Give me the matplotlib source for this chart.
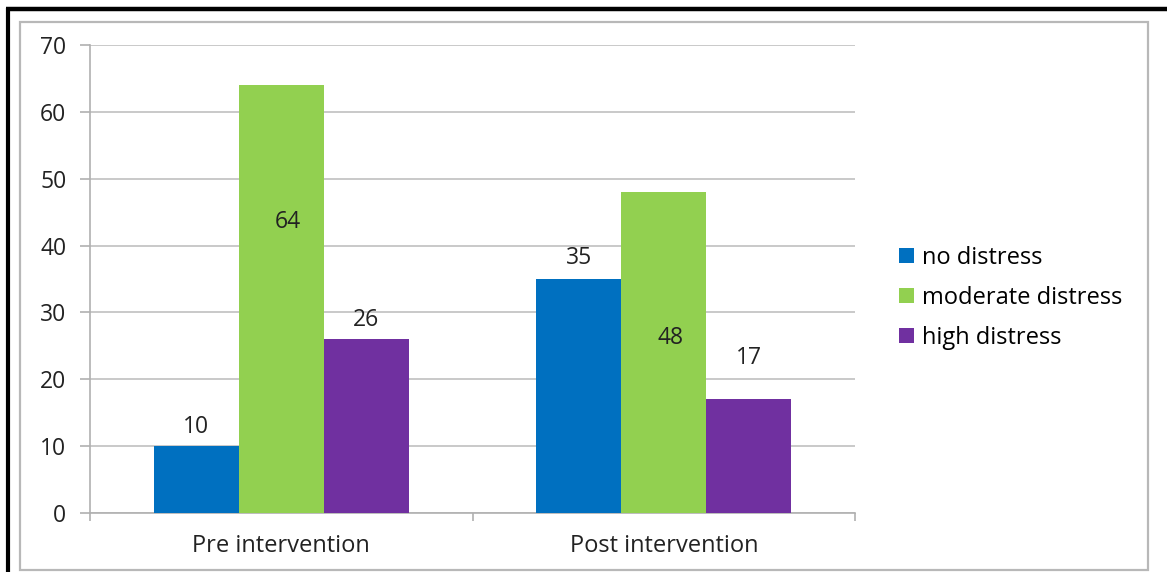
import matplotlib
matplotlib.use("Agg")
import matplotlib.pyplot as plt
from matplotlib.patches import Rectangle, Patch
from matplotlib.lines import Line2D
import numpy as np

plt.rcParams['font.family'] = ['Open Sans', 'DejaVu Sans']

categories = ["Pre intervention", "Post intervention"]
series_names = ["no distress", "moderate distress", "high distress"]
no_distress = [10, 35]
moderate_distress = [64, 48]
high_distress = [26, 17]
series_values = [no_distress, moderate_distress, high_distress]
colors = ["#0070C0", "#92D050", "#7030A0"]

# label placement (data y of label centre, x shift in bar widths) as in the original
label_y = [[12.9, 38.1], [43.5, 26.2], [28.9, 23.2]]
label_dx = [0.0, 0.08, 0.0]

W, H = 1167, 572
fig = plt.figure(figsize=(W / 100, H / 100), dpi=100)

# outer frames
fig.add_artist(Rectangle((20 / W, 1 - 570 / H), 1128 / W, 548 / H, transform=fig.transFigure,
                         fill=False, edgecolor="#b8b8b8", linewidth=1.6))
fig.add_artist(Line2D([6 / W, 1.0], [1 - 9 / H, 1 - 9 / H], transform=fig.transFigure,
                      color="black", linewidth=3.2, solid_capstyle="butt"))
fig.add_artist(Line2D([8 / W, 8 / W], [0, 1 - 7.5 / H], transform=fig.transFigure,
                      color="black", linewidth=3.0, solid_capstyle="butt"))

ax = fig.add_axes([90 / W, 1 - 513 / H, 765 / W, 468 / H])
x = np.arange(len(categories))
bw = 0.2222
for i, (name, vals, c) in enumerate(zip(series_names, series_values, colors)):
    xs = x + (i - 1) * bw
    ax.bar(xs, vals, width=bw, color=c, label=name, zorder=3)
    for j, v in enumerate(vals):
        ax.text(xs[j] + label_dx[i] * bw, label_y[i][j], str(v), ha="center", va="center",
                fontsize=16.5, color="#222222", zorder=4)

ax.set_xlim(-0.5, 1.5)
ax.set_ylim(0, 70)
ax.set_yticks(np.arange(0, 71, 10))
ax.grid(axis="y", color="#c0c0c0", linewidth=1.2, zorder=0)
ax.set_axisbelow(True)
for s in ["top", "right"]:
    ax.spines[s].set_visible(False)
for s in ["left", "bottom"]:
    ax.spines[s].set_color("#b0b0b0")
    ax.spines[s].set_linewidth(1.2)
ax.set_xticks(x)
ax.set_xticklabels(categories)
ax.set_xticks([-0.5, 0.5, 1.5], minor=True)
ax.tick_params(axis="x", which="major", length=0, pad=15, labelsize=17, labelcolor="#222222")
ax.tick_params(axis="x", which="minor", length=6, color="#b0b0b0", width=1.2, direction="out")
ax.tick_params(axis="y", length=7, color="#b0b0b0", width=1.2, pad=10, labelsize=16.5,
               labelcolor="#222222")

handles = [Patch(facecolor=c, edgecolor="none") for c in colors]
fig.legend(handles, series_names, loc="center left", bbox_to_anchor=(899 / W, 1 - 298 / H),
           frameon=False, fontsize=17, handlelength=0.62, handleheight=0.62,
           handletextpad=0.35, labelspacing=0.68, borderaxespad=0, borderpad=0)

fig.savefig("out.png", dpi=100)
